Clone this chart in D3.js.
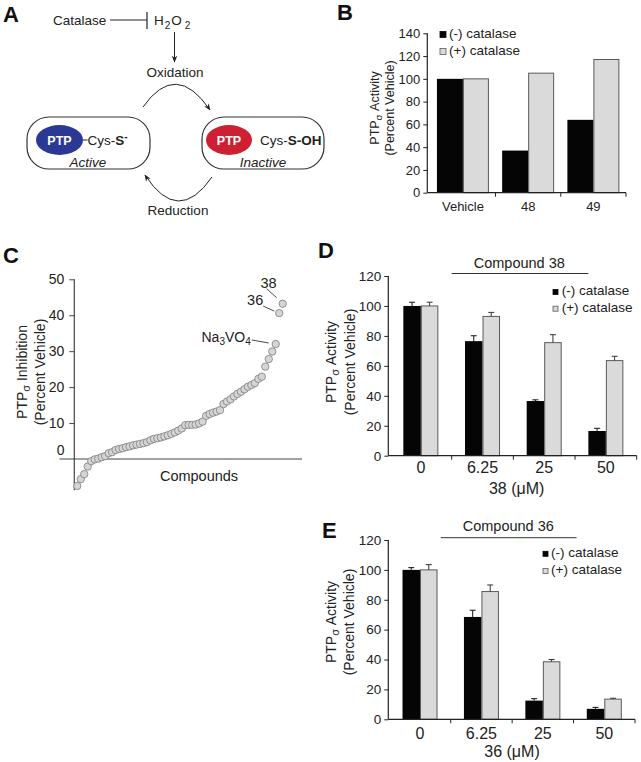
<!DOCTYPE html>
<html>
<head>
<meta charset="utf-8">
<script src="https://cdn.jsdelivr.net/npm/d3@7"></script>
<style>
  body { margin: 0; background: #fff; }
  svg { font-family: "Liberation Sans", Arial, Helvetica, sans-serif; }
</style>
</head>
<body>
<svg id="fig" width="641" height="762"></svg>
<script>
// ---------------- DATA ----------------
// Panel B
const bCategories = ["Vehicle", "48", "49"];
const bMinusCatalase = [100, 37, 64];
const bPlusCatalase = [100, 105, 117];
const bYTicks = [0, 20, 40, 60, 80, 100, 120, 140];

// Panel C (sorted screen of compounds, % inhibition)
const cInhibition = [-7.5, -5.6, -4.2, -2.1, -0.6, -0.1, 0.1, 0.5, 0.8, 1.6,
  1.9, 2.5, 2.8, 3.0, 3.3, 3.5, 3.8, 4.0, 4.2, 4.4,
  4.7, 5.2, 5.6, 5.8, 6.0, 6.3, 6.6, 7.0, 7.4, 7.9,
  8.5, 9.4, 9.5, 9.5, 9.6, 9.9, 10.4, 12.0, 12.5, 12.9,
  13.2, 13.6, 15.3, 16.0, 16.6, 17.4, 18.1, 18.7, 19.4, 20.1,
  20.6, 21.1, 22.3, 22.9, 25.7, 27.8, 29.9, 32.0, 40.6, 43.2];
const cYTicks = [10, 20, 30, 40, 50];
const cLabelIndex = { na3vo4: 57, c36: 58, c38: 59 };

// Panel D (compound 38)
const doseCategories = ["0", "6.25", "25", "50"];
const dMinusCatalase = [100, 76.5, 36.5, 16.5];
const dMinusErr = [2.5, 3.6, 0.8, 1.8];
const dPlusCatalase = [100, 93, 75.5, 63.5];
const dPlusErr = [2.5, 2.7, 5.3, 2.9];

// Panel E (compound 36)
const eMinusCatalase = [100, 68.5, 12.5, 7];
const eMinusErr = [1.5, 4.5, 1.3, 1.0];
const ePlusCatalase = [100, 85.5, 38.5, 13.5];
const ePlusErr = [3.5, 4.4, 1.5, 0.6];
const deYTicks = [0, 20, 40, 60, 80, 100, 120];

// ---------------- DRAWING ----------------
const svg = d3.select("#fig");
const INK = "#222";
const BLACK_BAR = "#050505";
const GRAY_BAR = "#dadada";
const GRAY_EDGE = "#5a5a5a";

function panelLetter(t, x, y) {
  svg.append("text").attr("x", x).attr("y", y)
    .attr("font-size", 22).attr("font-weight", "bold").attr("fill", "#111").text(t);
}

function yTitle(g, xs, cy, fs, line1) {
  const t1 = g.append("text")
    .attr("transform", `translate(${xs[0]},${cy}) rotate(-90)`)
    .attr("text-anchor", "middle").attr("dy", "0.35em")
    .attr("font-size", fs).attr("fill", INK);
  t1.append("tspan").text("PTP");
  t1.append("tspan").attr("font-size", fs * 0.78).attr("dy", fs * 0.2).text("σ");
  t1.append("tspan").attr("dy", -fs * 0.2).text(" " + line1);
  g.append("text")
    .attr("transform", `translate(${xs[1]},${cy}) rotate(-90)`)
    .attr("text-anchor", "middle").attr("dy", "0.35em")
    .attr("font-size", fs).attr("fill", INK).text("(Percent Vehicle)");
}

// ===== Panel A (schematic) =====
(function () {
  const g = svg.append("g").attr("font-size", 13.5).attr("fill", INK);
  const defs = svg.append("defs");
  defs.append("marker").attr("id", "ah").attr("viewBox", "0 0 10 10")
    .attr("refX", 9).attr("refY", 5).attr("markerWidth", 7).attr("markerHeight", 7)
    .attr("orient", "auto")
    .append("path").attr("d", "M0,1 L10,5 L0,9 L3,5 Z").attr("fill", "#222");

  panelLetter("A", 3, 22);
  g.append("text").attr("x", 53).attr("y", 25).text("Catalase");
  g.append("line").attr("x1", 110).attr("y1", 20).attr("x2", 147).attr("y2", 20)
    .attr("stroke", "#222").attr("stroke-width", 1);
  g.append("line").attr("x1", 147).attr("y1", 12).attr("x2", 147).attr("y2", 29)
    .attr("stroke", "#222").attr("stroke-width", 1.2);
  const h = g.append("text").attr("x", 154).attr("y", 25);
  h.append("tspan").text("H");
  h.append("tspan").attr("font-size", 10).attr("dy", 4).attr("dx", 1).text("2");
  h.append("tspan").attr("dy", -4).attr("dx", 1).text("O");
  h.append("tspan").attr("font-size", 10).attr("dy", 4).attr("dx", 3).text("2");

  g.append("line").attr("x1", 174.5).attr("y1", 32).attr("x2", 174.5).attr("y2", 62)
    .attr("stroke", "#222").attr("stroke-width", 1).attr("marker-end", "url(#ah)");
  g.append("text").attr("x", 175).attr("y", 77).attr("text-anchor", "middle").text("Oxidation");

  g.append("path").attr("d", "M143,107 Q176,60 210,110").attr("fill", "none")
    .attr("stroke", "#222").attr("stroke-width", 1).attr("marker-end", "url(#ah)");
  g.append("path").attr("d", "M212,177 Q178,226 145,175").attr("fill", "none")
    .attr("stroke", "#222").attr("stroke-width", 1).attr("marker-end", "url(#ah)");
  g.append("text").attr("x", 178).attr("y", 215).attr("text-anchor", "middle").text("Reduction");

  g.append("rect").attr("x", 27).attr("y", 117).attr("width", 123).attr("height", 52)
    .attr("rx", 22).attr("fill", "#fff").attr("stroke", "#333").attr("stroke-width", 1.2);
  g.append("rect").attr("x", 202).attr("y", 117).attr("width", 122).attr("height", 52)
    .attr("rx", 22).attr("fill", "#fff").attr("stroke", "#333").attr("stroke-width", 1.2);

  g.append("ellipse").attr("cx", 59.5).attr("cy", 140).attr("rx", 23.5).attr("ry", 15)
    .attr("fill", "#2b3996");
  g.append("text").attr("x", 59.5).attr("y", 144.5).attr("text-anchor", "middle")
    .attr("font-weight", "bold").attr("font-size", 12.5).attr("fill", "#fff").text("PTP");
  g.append("line").attr("x1", 83).attr("y1", 140).attr("x2", 87.5).attr("y2", 140)
    .attr("stroke", "#222");
  const s1 = g.append("text").attr("x", 87.5).attr("y", 145);
  s1.append("tspan").text("Cys-");
  s1.append("tspan").attr("font-weight", "bold").text("S");
  s1.append("tspan").attr("font-weight", "bold").attr("font-size", 10).attr("dy", -5).text("-");
  g.append("text").attr("x", 88).attr("y", 167).attr("text-anchor", "middle")
    .attr("font-style", "italic").text("Active");

  g.append("ellipse").attr("cx", 229).attr("cy", 140).attr("rx", 23).attr("ry", 15)
    .attr("fill", "#cf1f32");
  g.append("text").attr("x", 229).attr("y", 144.5).attr("text-anchor", "middle")
    .attr("font-weight", "bold").attr("font-size", 12.5).attr("fill", "#fff").text("PTP");
  const s2 = g.append("text").attr("x", 260).attr("y", 145);
  s2.append("tspan").text("Cys-");
  s2.append("tspan").attr("font-weight", "bold").text("S-OH");
  g.append("text").attr("x", 263).attr("y", 167).attr("text-anchor", "middle")
    .attr("font-style", "italic").text("Inactive");
})();

// ===== generic grouped bar panel =====
function barPanel(cfg) {
  const g = svg.append("g");
  const x = d3.scaleBand().domain(cfg.categories).range([cfg.bandStart, cfg.bandEnd]).padding(0);
  const y = d3.scaleLinear().domain([0, cfg.yMax]).range([cfg.y0, cfg.yTop]);
  const bw = x.bandwidth();
  const W = cfg.barW;

  const rows = cfg.categories.map((c, i) => ({ c, m: cfg.minus[i], p: cfg.plus[i],
    me: cfg.minusErr ? cfg.minusErr[i] : null, pe: cfg.plusErr ? cfg.plusErr[i] : null }));
  g.selectAll(".bm").data(rows).join("rect")
    .attr("x", d => x(d.c) + bw / 2 - W).attr("width", W)
    .attr("y", d => y(d.m)).attr("height", d => y(0) - y(d.m))
    .attr("fill", BLACK_BAR);
  g.selectAll(".bp").data(rows).join("rect")
    .attr("x", d => x(d.c) + bw / 2 + 0.5).attr("width", W - 1)
    .attr("y", d => y(d.p)).attr("height", d => y(0) - y(d.p))
    .attr("fill", GRAY_BAR).attr("stroke", GRAY_EDGE).attr("stroke-width", 1);

  if (cfg.minusErr) {
    const eb = (cx, v, e) => `M${cx},${y(v)}V${y(v + e)}M${cx - 3},${y(v + e)}H${cx + 3}`;
    g.selectAll(".em").data(rows).join("path")
      .attr("d", d => eb(x(d.c) + bw / 2 - W / 2, d.m, d.me))
      .attr("stroke", "#111").attr("stroke-width", 1).attr("fill", "none");
    g.selectAll(".ep").data(rows).join("path")
      .attr("d", d => eb(x(d.c) + bw / 2 + W / 2, d.p, d.pe))
      .attr("stroke", "#333").attr("stroke-width", 1).attr("fill", "none");
  }

  const ya = g.append("g").attr("transform", `translate(${cfg.axisX},0)`)
    .call(d3.axisLeft(y).tickValues(cfg.yTicks).tickSize(4).tickPadding(3));
  ya.select(".domain").remove();
  ya.selectAll("line").attr("stroke", INK);
  ya.selectAll("text").attr("font-size", cfg.yTickFont).attr("fill", INK)
    .attr("font-family", null);
  g.append("line").attr("x1", cfg.axisX).attr("x2", cfg.axisX)
    .attr("y1", y(0)).attr("y2", y(cfg.yMax)).attr("stroke", INK).attr("stroke-width", 1.2);

  g.append("line").attr("x1", cfg.axisX).attr("x2", cfg.bandEnd)
    .attr("y1", y(0)).attr("y2", y(0)).attr("stroke", INK).attr("stroke-width", 1.2);
  g.selectAll(".xt").data(cfg.categories).join("line")
    .attr("x1", c => x(c) + bw).attr("x2", c => x(c) + bw)
    .attr("y1", y(0)).attr("y2", y(0) + 4).attr("stroke", INK);
  g.selectAll(".xl").data(cfg.categories).join("text")
    .attr("x", c => x(c) + bw / 2).attr("y", cfg.xLabelY)
    .attr("text-anchor", "middle").attr("font-size", cfg.xTickFont).attr("fill", INK)
    .text(c => c);

  const L = cfg.legend;
  [["(-) catalase", BLACK_BAR, BLACK_BAR], ["(+) catalase", GRAY_BAR, GRAY_EDGE]].forEach((it, i) => {
    g.append("rect").attr("x", L.x).attr("y", L.y + i * L.dy - L.s).attr("width", L.s).attr("height", L.s)
      .attr("fill", it[1]).attr("stroke", it[2]).attr("stroke-width", 0.8);
    g.append("text").attr("x", L.x + L.tx).attr("y", L.y + i * L.dy + 0.5)
      .attr("font-size", L.fs).attr("fill", INK).text(it[0]);
  });

  return { g, x, y, bw };
}

// ===== Panel B =====
(function () {
  panelLetter("B", 337, 20);
  const p = barPanel({
    categories: bCategories, minus: bMinusCatalase, plus: bPlusCatalase,
    axisX: 427.3, bandStart: 430.3, bandEnd: 626, y0: 192.7, yTop: 33.3, yMax: 140,
    yTicks: bYTicks, barW: 26, yTickFont: 13, xTickFont: 13, xLabelY: 211,
    legend: { x: 440, y: 37.5, dy: 17, s: 6, tx: 9, fs: 13.5 }
  });
  yTitle(p.g, [375, 390], 108, 12.5, "Activity");
})();

// ===== Panel C =====
(function () {
  panelLetter("C", 3, 263);
  const g = svg.append("g");
  const x = d3.scaleLinear().domain([0, cInhibition.length - 1]).range([77.3, 282.7]);
  const y = d3.scaleLinear().domain([0, 50]).range([459, 279.3]);
  const yMin = -8.7;

  g.append("line").attr("x1", 59.5).attr("x2", 302).attr("y1", y(0)).attr("y2", y(0))
    .attr("stroke", "#444").attr("stroke-width", 1.2);
  g.append("line").attr("x1", 74.3).attr("x2", 74.3).attr("y1", y(50)).attr("y2", y(yMin))
    .attr("stroke", "#444").attr("stroke-width", 1.2);
  const ya = g.append("g").attr("transform", "translate(74.3,0)")
    .call(d3.axisLeft(y).tickValues(cYTicks).tickSize(5).tickPadding(5));
  ya.select(".domain").remove();
  ya.selectAll("line").attr("stroke", "#444");
  ya.selectAll("text").attr("font-size", 14).attr("fill", INK).attr("font-family", null);
  g.append("text").attr("x", 64.5).attr("y", y(0) - 4).attr("text-anchor", "end")
    .attr("font-size", 14).attr("fill", INK).text("0");

  yTitle(g, [22, 40], 372, 14, "Inhibition");
  g.append("text").attr("x", 199).attr("y", 481).attr("text-anchor", "middle")
    .attr("font-size", 14.5).attr("fill", INK).text("Compounds");

  g.selectAll("circle").data(cInhibition).join("circle")
    .attr("cx", (d, i) => x(i)).attr("cy", d => y(d)).attr("r", 3.7)
    .attr("fill", "#d5d5d5").attr("stroke", "#7d7d7d").attr("stroke-width", 0.8);

  const lab = (i, dxText, dyText, lx1, ly1, lx2, ly2) => {
    const px = x(i), py = y(cInhibition[i]);
    g.append("line").attr("x1", px + lx1).attr("y1", py + ly1).attr("x2", px + lx2).attr("y2", py + ly2)
      .attr("stroke", "#333").attr("stroke-width", 0.9);
    return [px + dxText, py + dyText];
  };
  let p = lab(cLabelIndex.c38, -6, -16, -16, -15, -6, -6);
  g.append("text").attr("x", p[0]).attr("y", p[1]).attr("text-anchor", "end")
    .attr("font-size", 14.5).attr("fill", INK).text("38");
  p = lab(cLabelIndex.c36, -16, -8, -16, -7, -5, -2);
  g.append("text").attr("x", p[0]).attr("y", p[1]).attr("text-anchor", "end")
    .attr("font-size", 14.5).attr("fill", INK).text("36");
  p = lab(cLabelIndex.na3vo4, -25, -2, -24, -4, -7, -1);
  const t = g.append("text").attr("x", p[0]).attr("y", p[1]).attr("text-anchor", "end")
    .attr("font-size", 14).attr("fill", INK);
  t.append("tspan").text("Na");
  t.append("tspan").attr("font-size", 10).attr("dy", 3).text("3");
  t.append("tspan").attr("dy", -3).text("VO");
  t.append("tspan").attr("font-size", 10).attr("dy", 3).text("4");
})();

// ===== Panel D =====
(function () {
  panelLetter("D", 318, 258);
  const p = barPanel({
    categories: doseCategories, minus: dMinusCatalase, plus: dPlusCatalase,
    minusErr: dMinusErr, plusErr: dPlusErr,
    axisX: 388.3, bandStart: 390, bandEnd: 636.7, y0: 455.7, yTop: 276, yMax: 120,
    yTicks: deYTicks, barW: 17.5, yTickFont: 13.5, xTickFont: 16, xLabelY: 473,
    legend: { x: 553, y: 294.5, dy: 16.7, s: 5, tx: 8.7, fs: 13.5 }
  });
  yTitle(p.g, [331, 350], 362, 14, "Activity");
  const x = p.x, bw = p.bw;
  p.g.append("text").attr("x", 519.3).attr("y", 268).attr("text-anchor", "middle")
    .attr("font-size", 14.5).attr("fill", INK).text("Compound 38");
  p.g.append("line").attr("x1", x("6.25")).attr("x2", x("50") + bw / 2 - 17.5)
    .attr("y1", 273.5).attr("y2", 273.5).attr("stroke", "#333").attr("stroke-width", 1);
  p.g.append("text").attr("x", 516.7).attr("y", 494).attr("text-anchor", "middle")
    .attr("font-size", 16).attr("fill", INK).text("38 (μM)");
})();

// ===== Panel E =====
(function () {
  panelLetter("E", 322, 538);
  const p = barPanel({
    categories: doseCategories, minus: eMinusCatalase, plus: ePlusCatalase,
    minusErr: eMinusErr, plusErr: ePlusErr,
    axisX: 388.3, bandStart: 389.3, bandEnd: 635, y0: 719.3, yTop: 540, yMax: 120,
    yTicks: deYTicks, barW: 17.5, yTickFont: 13.5, xTickFont: 16, xLabelY: 738.5,
    legend: { x: 543, y: 556.3, dy: 17.3, s: 5, tx: 8, fs: 13.5 }
  });
  yTitle(p.g, [331, 349], 622, 14, "Activity");
  const x = p.x;
  p.g.append("text").attr("x", 508.3).attr("y", 531).attr("text-anchor", "middle")
    .attr("font-size", 14.5).attr("fill", INK).text("Compound 36");
  p.g.append("line").attr("x1", x("6.25") - 10).attr("x2", x("50") + 3)
    .attr("y1", 537.7).attr("y2", 537.7).attr("stroke", "#333").attr("stroke-width", 1);
  p.g.append("text").attr("x", 512).attr("y", 756.5).attr("text-anchor", "middle")
    .attr("font-size", 16).attr("fill", INK).text("36 (μM)");
})();
</script>
</body>
</html>
